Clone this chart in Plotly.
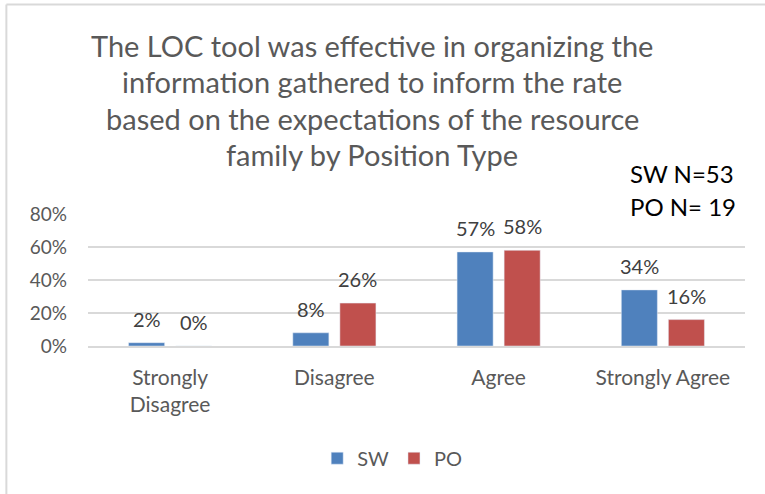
import plotly.graph_objects as go

categories = ["Strongly<br>Disagree", "Disagree", "Agree", "Strongly Agree"]
sw_values = [0.02, 0.08, 0.57, 0.34]
po_values = [0.00, 0.26, 0.58, 0.16]
sw_labels = ["2%", "8%", "57%", "34%"]
po_labels = ["0%", "26%", "58%", "16%"]
y_ticks = [0, 0.2, 0.4, 0.6, 0.8]
y_tick_labels = ["0%", "20%", "40%", "60%", "80%"]
title_lines = [
    "The LOC tool was effective in organizing the",
    "information gathered to inform the rate",
    "based on the expectations of the resource",
    "family by Position Type",
]
n_note = ["SW N=53", "PO N= 19"]

FONT = "Lato"
BLUE = "#4F81BD"
RED = "#C0504D"

fig = go.Figure()
fig.add_trace(go.Bar(name="SW", x=categories, y=sw_values, marker_color=BLUE))
fig.add_trace(go.Bar(name="PO", x=categories, y=po_values, marker_color=RED))

annotations = []
for cat, v, lab in zip(categories, sw_values, sw_labels):
    annotations.append(dict(x=cat, y=v, text=lab, xref="x", yref="y", showarrow=False,
                            xshift=-23.5, yshift=24, font=dict(family=FONT, size=20, color="#404040")))
for cat, v, lab in zip(categories, po_values, po_labels):
    annotations.append(dict(x=cat, y=v, text=lab, xref="x", yref="y", showarrow=False,
                            xshift=23.5, yshift=24, font=dict(family=FONT, size=20, color="#404040")))

# title lines
title_y_px = [45, 81.5, 118, 154.5]
for line, ypx in zip(title_lines, title_y_px):
    annotations.append(dict(x=(372 - 88) / 656, y=(346 - ypx) / 132, xref="paper", yref="paper",
                            text=line, showarrow=False, xanchor="center", yanchor="middle",
                            font=dict(family=FONT, size=29, color="#595959")))
# N note
for line, ypx in zip(n_note, [173, 206]):
    annotations.append(dict(x=(627 - 88) / 656, y=(346 - ypx) / 132, xref="paper", yref="paper",
                            text=line, showarrow=False, xanchor="left", yanchor="middle",
                            font=dict(family=FONT, size=24, color="#000000")))

fig.update_layout(
    width=765, height=494,
    margin=dict(l=88, r=20, t=214, b=148, autoexpand=False),
    paper_bgcolor="white", plot_bgcolor="white",
    barmode="group", bargap=0.427, bargroupgap=0.234,
    showlegend=True,
    legend=dict(orientation="h", x=0.463, xanchor="center", y=-0.85, yanchor="middle",
                font=dict(family=FONT, size=20, color="#595959"), itemwidth=30),
    annotations=annotations,
    shapes=[
        dict(type="line", xref="paper", yref="paper", x0=(6.5 - 88) / 656, x1=(800 - 88) / 656,
             y0=(346 - 4.5) / 132, y1=(346 - 4.5) / 132, line=dict(color="#d9d9d9", width=2)),
        dict(type="line", xref="paper", yref="paper", x0=(6.5 - 88) / 656, x1=(6.5 - 88) / 656,
             y0=(346 - 4.5) / 132, y1=(346 - 520) / 132, line=dict(color="#d9d9d9", width=2)),
    ],
)
fig.update_xaxes(showgrid=False, showline=True, linecolor="#d9d9d9", linewidth=1.5,
                 tickfont=dict(family=FONT, size=21, color="#595959"), ticks="",
                 ticklabelstandoff=12)
fig.update_yaxes(range=[0, 0.8], tickvals=y_ticks, ticktext=y_tick_labels,
                 showgrid=True, gridcolor="#d9d9d9", gridwidth=1.5, zeroline=False,
                 tickfont=dict(family=FONT, size=19, color="#595959"), ticks="",
                 ticklabelstandoff=20, showline=False)

fig.write_html("out.html", config={"displayModeBar": False},
               post_script="document.body.style.margin='0';")
